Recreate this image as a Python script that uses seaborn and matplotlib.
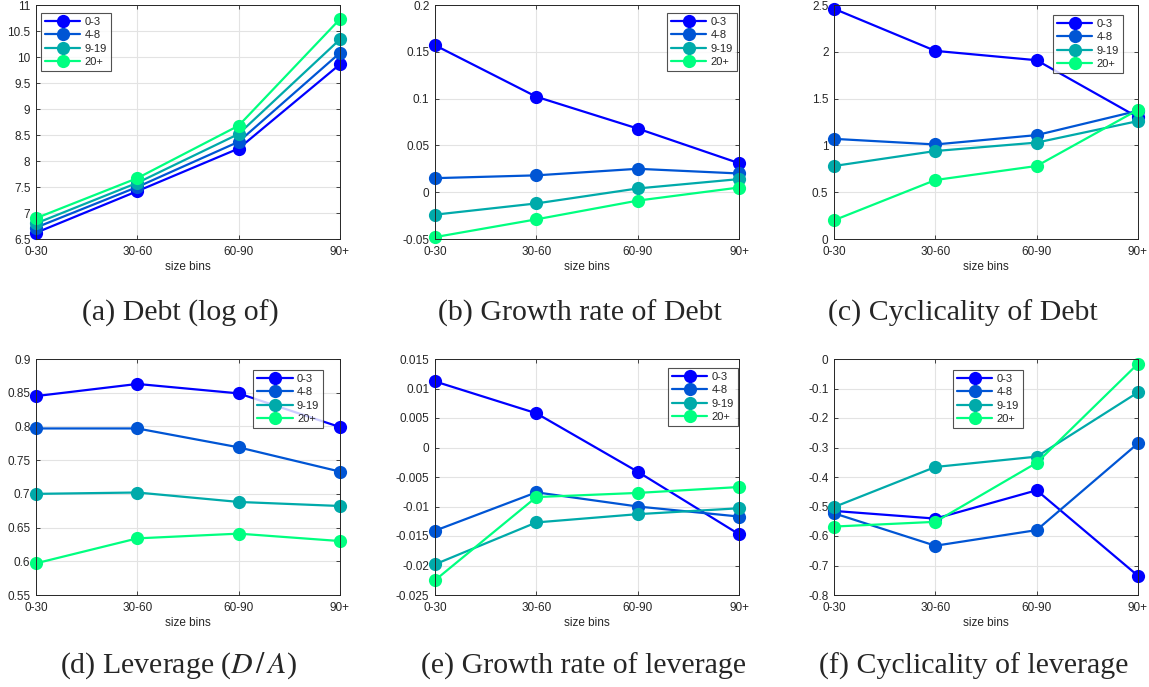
import pandas as pd
import seaborn as sns
import matplotlib.pyplot as plt

# size bins on the x axis, age groups as the series
bins = ["0-30", "30-60", "60-90", "90+"]
groups = ["0-3", "4-8", "9-19", "20+"]

# (a) Debt (log of)
debt_log = {
    "0-3": [6.62, 7.42, 8.24, 9.86],
    "4-8": [6.72, 7.50, 8.37, 10.08],
    "9-19": [6.80, 7.58, 8.52, 10.34],
    "20+": [6.90, 7.67, 8.68, 10.73],
}
# (b) Growth rate of Debt
debt_growth = {
    "0-3": [0.157, 0.102, 0.068, 0.031],
    "4-8": [0.015, 0.018, 0.025, 0.020],
    "9-19": [-0.024, -0.012, 0.004, 0.014],
    "20+": [-0.048, -0.029, -0.009, 0.005],
}
# (c) Cyclicality of Debt
debt_cycl = {
    "0-3": [2.46, 2.01, 1.91, 1.30],
    "4-8": [1.07, 1.01, 1.11, 1.37],
    "9-19": [0.78, 0.94, 1.03, 1.26],
    "20+": [0.20, 0.63, 0.78, 1.38],
}
# (d) Leverage
lev = {
    "0-3": [0.845, 0.863, 0.849, 0.799],
    "4-8": [0.797, 0.797, 0.769, 0.733],
    "9-19": [0.700, 0.702, 0.688, 0.682],
    "20+": [0.597, 0.634, 0.641, 0.630],
}
# (e) Growth rate of leverage
lev_growth = {
    "0-3": [0.0112, 0.0058, -0.0041, -0.0147],
    "4-8": [-0.0141, -0.0076, -0.0100, -0.0117],
    "9-19": [-0.0198, -0.0127, -0.0113, -0.0103],
    "20+": [-0.0225, -0.0084, -0.0077, -0.0067],
}
# (f) Cyclicality of leverage
lev_cycl = {
    "0-3": [-0.515, -0.541, -0.445, -0.735],
    "4-8": [-0.523, -0.633, -0.580, -0.286],
    "9-19": [-0.502, -0.366, -0.331, -0.113],
    "20+": [-0.568, -0.552, -0.352, -0.016],
}

captions = ["(a) Debt (log of)", "(b) Growth rate of Debt", "(c) Cyclicality of Debt",
            r"(d) Leverage ($D\,/\,A$)", "(e) Growth rate of leverage", "(f) Cyclicality of leverage"]
panels = [debt_log, debt_growth, debt_cycl, lev, lev_growth, lev_cycl]
ylims = [(6.5, 11), (-0.05, 0.2), (0, 2.5), (0.55, 0.9), (-0.025, 0.015), (-0.8, 0)]
yticks = [
    [6.5, 7, 7.5, 8, 8.5, 9, 9.5, 10, 10.5, 11],
    [-0.05, 0, 0.05, 0.1, 0.15, 0.2],
    [0, 0.5, 1, 1.5, 2, 2.5],
    [0.55, 0.6, 0.65, 0.7, 0.75, 0.8, 0.85, 0.9],
    [-0.025, -0.02, -0.015, -0.01, -0.005, 0, 0.005, 0.01, 0.015],
    [-0.8, -0.7, -0.6, -0.5, -0.4, -0.3, -0.2, -0.1, 0],
]
# legend upper-left corner, in axes fractions
legend_boxes = [(0.016, 0.966), (0.763, 0.966), (0.72, 0.957),
                (0.714, 0.953), (0.766, 0.962), (0.391, 0.953)]

# MATLAB winter(4)
palette = ["#0000ff", "#0055d4", "#00aaaa", "#00ff80"]

sns.set_style("white")
plt.rcParams["font.family"] = ["Liberation Sans", "DejaVu Sans"]
plt.rcParams["mathtext.fontset"] = "stix"

fig = plt.figure(figsize=(11.49, 6.87), dpi=100)
lefts = [36, 435, 834]
rows = [(5, 239), (359, 595)]
cap_x = [[180, 580, 963], [178, 583, 974]]
cap_y = [313, 666]

def fmt(v):
    return f"{v:g}"

for i, data in enumerate(panels):
    r, c = divmod(i, 3)
    top, bot = rows[r]
    ax = fig.add_axes([lefts[c] / 1149, 1 - bot / 687, 304 / 1149, (bot - top) / 687])
    df = pd.DataFrame([{"bin": b, "group": g, "value": v}
                       for g in groups for b, v in zip(bins, data[g])])
    sns.lineplot(data=df, x="bin", y="value", hue="group", hue_order=groups,
                 palette=palette, marker="o", markersize=9.5, markeredgewidth=0,
                 linewidth=1.6, ax=ax, legend=False)
    ax.set_xlim(0, 3)
    ax.set_ylim(*ylims[i])
    ax.set_yticks(yticks[i])
    ax.set_yticklabels([fmt(v) for v in yticks[i]])
    ax.set_xlabel("size bins", fontsize=8.5, color="#262626", labelpad=2)
    ax.set_ylabel("")
    ax.grid(True, color="#e3e3e3", linewidth=0.8)
    ax.set_axisbelow(True)
    for s in ax.spines.values():
        s.set_color("#262626")
        s.set_linewidth(0.7)
    ax.tick_params(direction="in", length=3, width=0.6, colors="#262626",
                   labelsize=8.5, top=True, right=True, bottom=True, left=True)
    ax.tick_params(axis="x", pad=5)
    ax.tick_params(axis="y", pad=4)
    for ln in ax.lines:
        ln.set_clip_on(False)
    leg = ax.legend(ax.lines[:4], groups, loc="upper left", bbox_to_anchor=legend_boxes[i],
                    fontsize=8, frameon=True, fancybox=False, handlelength=3.2,
                    handletextpad=0.4, borderpad=0.35, labelspacing=0.3, borderaxespad=0)
    leg.get_frame().set_edgecolor("#262626")
    leg.get_frame().set_linewidth(0.8)
    fig.text(cap_x[r][c] / 1149, 1 - cap_y[r] / 687, captions[i], ha="center", va="center",
             fontsize=21.5, family=["Liberation Serif", "DejaVu Serif"])

fig.savefig("out.png", dpi=100)
